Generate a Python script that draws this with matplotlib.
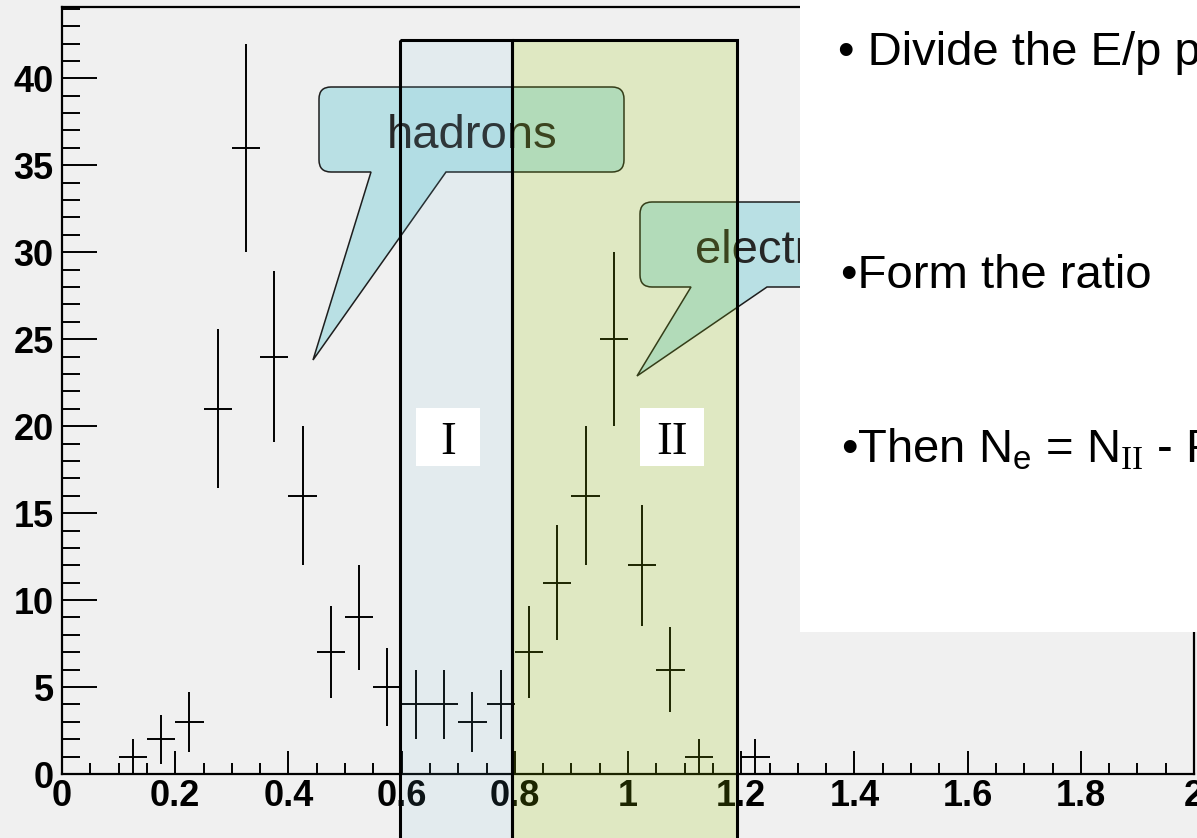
import numpy as np
import matplotlib.pyplot as plt
from matplotlib.path import Path
from matplotlib.patches import PathPatch, Rectangle
from matplotlib.transforms import Affine2D, Bbox
from matplotlib.ticker import MultipleLocator, FuncFormatter

plt.rcParams['font.family'] = ['Liberation Sans', 'DejaVu Sans']
plt.rcParams['mathtext.fontset'] = 'custom'
plt.rcParams['mathtext.rm'] = 'Liberation Serif'
plt.rcParams['mathtext.sf'] = 'Liberation Sans'

W, H = 1197, 838

# E/p histogram: 40 bins of width 0.05 on [0, 2]
bin_width = 0.05
counts = [0, 0, 1, 2, 3, 21, 36, 24, 16, 7,
          9, 5, 4, 4, 3, 4, 7, 11, 16, 25,
          12, 6, 1, 0, 1, 0, 0, 0, 0, 0,
          0, 0, 0, 0, 0, 0, 0, 0, 0, 0]

bullets = ['\u2022 Divide the E/p plot',
           '\u2022Form the ratio',
           '\u2022Then N$_\\mathsf{e}$ = N$_\\mathrm{II}$ - R']
region_names = ['I', 'II']

counts = np.array(counts, dtype=float)
centers = (np.arange(len(counts)) + 0.5) * bin_width
filled = counts > 0

fig = plt.figure(figsize=(W / 100, H / 100), dpi=100)
fig.patch.set_facecolor('#f0f0f0')
ax = fig.add_axes([62 / W, (H - 774) / H, (1194 - 62) / W, (774 - 7) / H])
ax.set_facecolor('#f0f0f0')

ax.errorbar(centers[filled], counts[filled],
            xerr=bin_width / 2, yerr=np.sqrt(counts[filled]),
            fmt='none', ecolor='black', elinewidth=1.4, capsize=0)

ax.set_xlim(0, 2)
ax.set_ylim(0, 1.05 * (counts.max() + np.sqrt(counts.max())))
ax.xaxis.set_major_locator(MultipleLocator(0.2))
ax.xaxis.set_minor_locator(MultipleLocator(0.05))
ax.yaxis.set_major_locator(MultipleLocator(5))
ax.yaxis.set_minor_locator(MultipleLocator(1))
ax.xaxis.set_major_formatter(FuncFormatter(lambda v, p: f'{v:g}'))
ax.tick_params(axis='both', which='both', direction='in', width=1.4,
               labelsize=26, top=False, right=False)
ax.tick_params(axis='x', which='major', length=16.5, pad=3.5)
ax.tick_params(axis='x', which='minor', length=8)
ax.tick_params(axis='y', which='major', length=25, pad=6)
ax.tick_params(axis='y', which='minor', length=13)
for s in ax.spines.values():
    s.set_linewidth(1.6)
plt.setp(ax.get_xticklabels() + ax.get_yticklabels(), fontweight='bold')

# slide overlay, laid out in pixels from the top-left corner
pix = Affine2D().scale(1, -1).translate(0, H)


def callout(x0, y0, x1, y1, xa, xb, tip, r=12):
    tx, ty = tip
    verts = [(x0 + r, y0), (x1 - r, y0), (x1, y0), (x1, y0 + r),
             (x1, y1 - r), (x1, y1), (x1 - r, y1),
             (xb, y1), (tx, ty), (xa, y1),
             (x0 + r, y1), (x0, y1), (x0, y1 - r),
             (x0, y0 + r), (x0, y0), (x0 + r, y0), (x0 + r, y0)]
    codes = [Path.MOVETO, Path.LINETO, Path.CURVE3, Path.CURVE3,
             Path.LINETO, Path.CURVE3, Path.CURVE3,
             Path.LINETO, Path.LINETO, Path.LINETO,
             Path.LINETO, Path.CURVE3, Path.CURVE3,
             Path.LINETO, Path.CURVE3, Path.CURVE3, Path.CLOSEPOLY]
    return PathPatch(Path(verts, codes), facecolor='#b9e0e4',
                     edgecolor='#1e1e1e', lw=1.1, transform=pix, zorder=2)


fig.add_artist(callout(319, 87, 624, 172, 371, 446, (313, 360)))
fig.add_artist(callout(640, 202, 930, 287, 691, 767, (637, 376)))
fig.text(472, 148, 'hadrons', transform=pix, ha='center', va='baseline',
         fontsize=34, color='#262626', zorder=3)
# the text panel hides the right part of this bubble
el = fig.text(695, 263, 'electrons', transform=pix, ha='left',
              va='baseline', fontsize=34, color='#262626', zorder=3)
el.set_clip_box(Bbox([[640, H - 287], [800, H - 202]]))
el.set_clip_on(True)

# regions I and II, semi-transparent over everything below
edges = [400, 511.5, 736.5]
fills = [((120 / 255, 200 / 255, 230 / 255), 0.10),
         ((150 / 255, 198 / 255, 0.0), 0.19)]
for (left, right), (col, a) in zip(zip(edges[:-1], edges[1:]), fills):
    fig.add_artist(Rectangle((left, 40), right - left, 820, transform=pix,
                             facecolor=col, alpha=a, edgecolor='none',
                             zorder=4))
    fig.add_artist(Rectangle((left, 40), right - left, 820, transform=pix,
                             facecolor='none', edgecolor='black', lw=2.2,
                             zorder=5))

for name, cx in zip(region_names, [448, 672]):
    fig.add_artist(Rectangle((cx - 32, 408), 64, 58, transform=pix,
                             facecolor='white', edgecolor='none', zorder=6))
    fig.text(cx, 454, name, transform=pix, ha='center', va='baseline',
             fontsize=34, family='Liberation Serif', zorder=7)

# text panel on the right
fig.add_artist(Rectangle((800, 0), 420, 632, transform=pix,
                         facecolor='white', edgecolor='none', zorder=8))
for txt, (x, y) in zip(bullets, [(838, 65), (841, 288), (841, 462)]):
    fig.text(x, y, txt, transform=pix, ha='left', va='baseline',
             fontsize=34, color='black', zorder=9)

fig.savefig('out.png', dpi=100, facecolor=fig.get_facecolor())
